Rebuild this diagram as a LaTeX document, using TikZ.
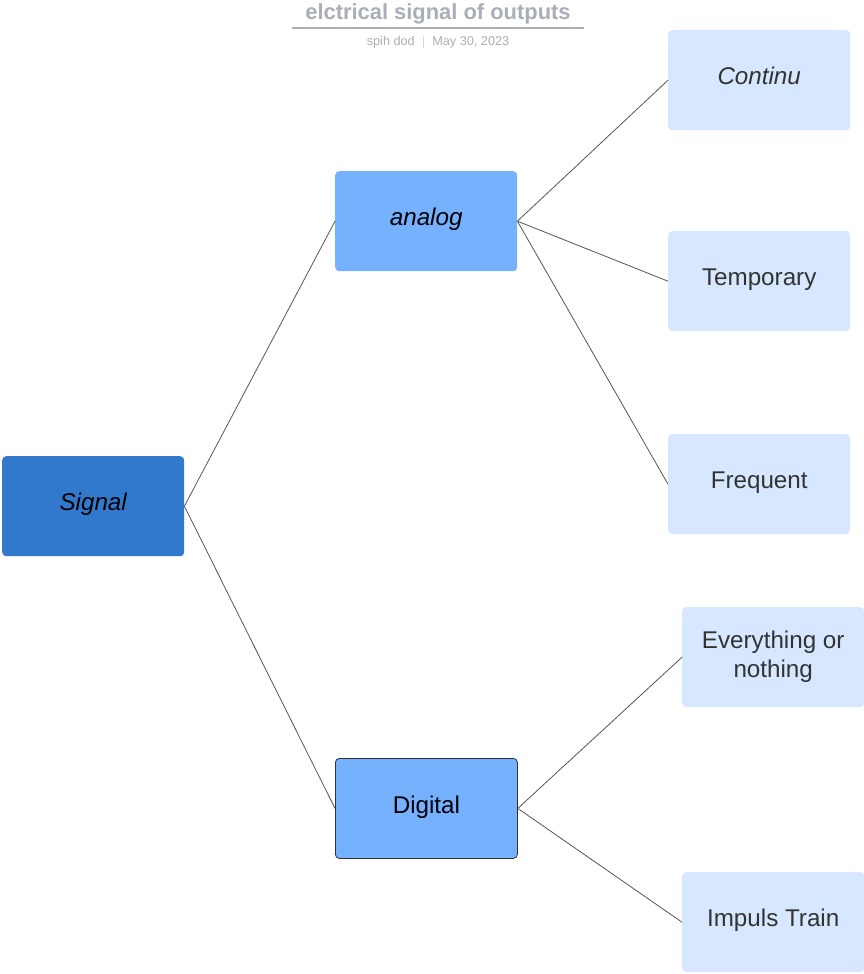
\documentclass[tikz,border=0pt]{standalone}
\usepackage{fontspec}
\setmainfont{Liberation Sans}
\definecolor{rootblue}{HTML}{3278CC}
\definecolor{midblue}{HTML}{75B1FF}
\definecolor{leafblue}{HTML}{D6E7FF}
\definecolor{titlegray}{HTML}{A9AEB8}
\definecolor{linegray}{HTML}{555555}
\definecolor{leaftext}{HTML}{333333}
\tikzset{
  box/.style={rectangle, rounded corners=4pt, minimum width=182pt, minimum height=100pt,
    inner sep=2pt, align=center, font=\fontsize{24.2}{29}\selectfont, anchor=north west},
  oneline/.style={text height=17.5pt, text depth=8pt},
  rootbox/.style={box, oneline, fill=rootblue, text=black},
  midbox/.style={box, oneline, fill=midblue, text=black},
  leafbox/.style={box, oneline, fill=leafblue, text=leaftext},
  link/.style={draw=linegray, line width=0.8pt},
}
\begin{document}
\begin{tikzpicture}[x=1pt, y=-1pt]
\useasboundingbox (0,0) rectangle (864,974);
\fill[white] (0,0) rectangle (864,974);

% heading
\node[text=titlegray, font=\fontsize{21.9}{25}\selectfont\bfseries] (title) at (438,14) {elctrical signal of outputs};
\draw[titlegray, line width=1.2pt] (292,28) -- (584,28);
\node[text=titlegray, font=\fontsize{12.7}{15}\selectfont] (sub) at (438,42) {spih dod \ $|$\ \ May 30, 2023};

% boxes
\node[rootbox] (signal) at (2,456) {\itshape Signal};
\node[midbox] (analog) at (335,171) {\itshape analog};
\node[midbox, draw=black!80, line width=0.8pt] (digital) at (335,758) {Digital};
\node[leafbox] (continu) at (668,30) {\itshape Continu};
\node[leafbox] (temp) at (668,231) {Temporary};
\node[leafbox] (freq) at (668,434) {Frequent};
\node[box, fill=leafblue, text=leaftext] (every) at (682,607) {Everything or\\nothing};
\node[leafbox] (impuls) at (682,872) {Impuls Train};

% connectors
\draw[link] (signal.east) -- (analog.west);
\draw[link] (signal.east) -- (digital.west);
\draw[link] (analog.east) -- (continu.west);
\draw[link] (analog.east) -- (temp.west);
\draw[link] (analog.east) -- (freq.west);
\draw[link] (digital.east) -- (every.west);
\draw[link] (digital.east) -- (impuls.west);
\end{tikzpicture}
\end{document}
